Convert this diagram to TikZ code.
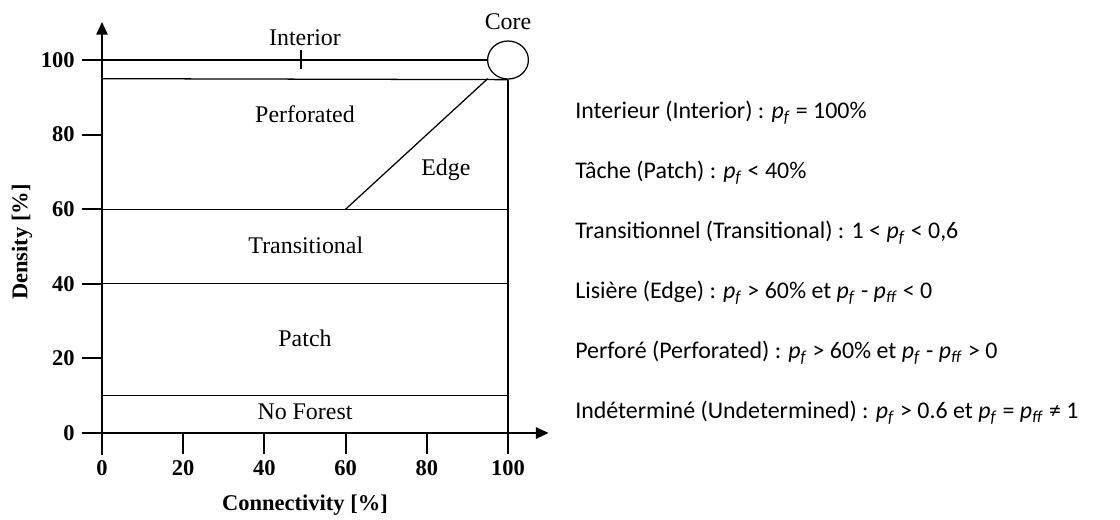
\documentclass[tikz,border=0pt]{standalone}
\usepackage{fontspec}
\setmainfont{Liberation Serif}
\newfontfamily\calib{Carlito}
\usetikzlibrary{arrows.meta, positioning, shapes.geometric}

\newcommand{\pf}{\textit{p}\textsubscript{\textit{f}}}
\newcommand{\pff}{\textit{p}\textsubscript{\textit{ff}}}

\begin{document}
\begin{tikzpicture}[
    x=0.1015cm, y=0.09325cm,
    axis/.style={line width=1.3pt, -{Triangle[length=9pt, width=8pt]}},
    tick/.style={line width=1.3pt},
    zone/.style={line width=0.9pt},
    zlabel/.style={font=\fontsize{17}{20}\selectfont},
    tlabel/.style={font=\fontsize{16}{19}\selectfont\bfseries},
    deftext/.style={font=\calib\fontsize{17}{20}\selectfont, anchor=west, inner sep=0pt},
    node distance=1.5cm
]
    \useasboundingbox (-2.55cm,-2.15cm) rectangle (25.45cm,10.825cm);

    % axes and ticks
    \draw[axis] (-5,0) -- (110,0);
    \draw[axis] (0,-6) -- (0,110.2);
    \foreach \v in {0,20,...,100} {
        \draw[tick] (\v,0) -- (\v,-5.5) node[tlabel, below=1pt] (xl\v) {\v};
        \draw[tick] (0,\v) -- (-5,\v) node[tlabel, left=1pt] (yl\v) {\v};
    }
    \node[tlabel] (xtitle) at (50,-19.3) {Connectivity [\%]};
    \node[tlabel, rotate=90] (ytitle) at (-19.7,51.2) {Density [\%]};

    % classes
    \node[draw, ellipse, line width=0.9pt, minimum width=1.02cm, minimum height=0.95cm, inner sep=0pt] (core) at (100,100) {};
    \node[zlabel, above=4pt of core] (corelbl) {Core};
    \draw[zone] (0,100) -- (core.west);
    \draw[zone] (49,102.7) -- (49,97.6);
    \draw[zone] (0,95) -- (core.south);
    \draw[zone] (core.south) -- (100,0);
    \draw[zone] (0,60) -- (100,60);
    \draw[zone] (60,60) -- (95,95);
    \draw[zone] (0,40) -- (100,40);
    \draw[zone] (0,10) -- (100,10);

    \node[zlabel] (interior) at (50,105.9) {Interior};
    \node[zlabel] (perfo) at (50,85.5) {Perforated};
    \node[zlabel] (edge) at (84.7,70.5) {Edge};
    \node[zlabel] (trans) at (50.2,50.4) {Transitional};
    \node[zlabel] (patch) at (50,25.5) {Patch};
    \node[zlabel] (noforest) at (50,5.6) {No Forest};

    % definitions
    \node[deftext] (dinter) at (116.5,85.8) {Interieur (Interior) : \pf{} = 100\%};
    \node[deftext, below=of dinter.west, anchor=west] (dpatch) {Tâche (Patch) : \pf{} < 40\%};
    \node[deftext, below=of dpatch.west, anchor=west] (dtrans) {Transitionnel (Transitional) : 1 < \pf{} < 0,6};
    \node[deftext, below=of dtrans.west, anchor=west] (dedge) {Lisière (Edge) : \pf{} > 60\% et \pf{} - \pff{} < 0};
    \node[deftext, below=of dedge.west, anchor=west] (dperfo) {Perforé (Perforated) : \pf{} > 60\% et \pf{} - \pff{} > 0};
    \node[deftext, below=of dperfo.west, anchor=west] (dundet) {Indéterminé (Undetermined) : \pf{} > 0.6 et \pf{} = \pff{} ≠ 1};
\end{tikzpicture}
\end{document}
